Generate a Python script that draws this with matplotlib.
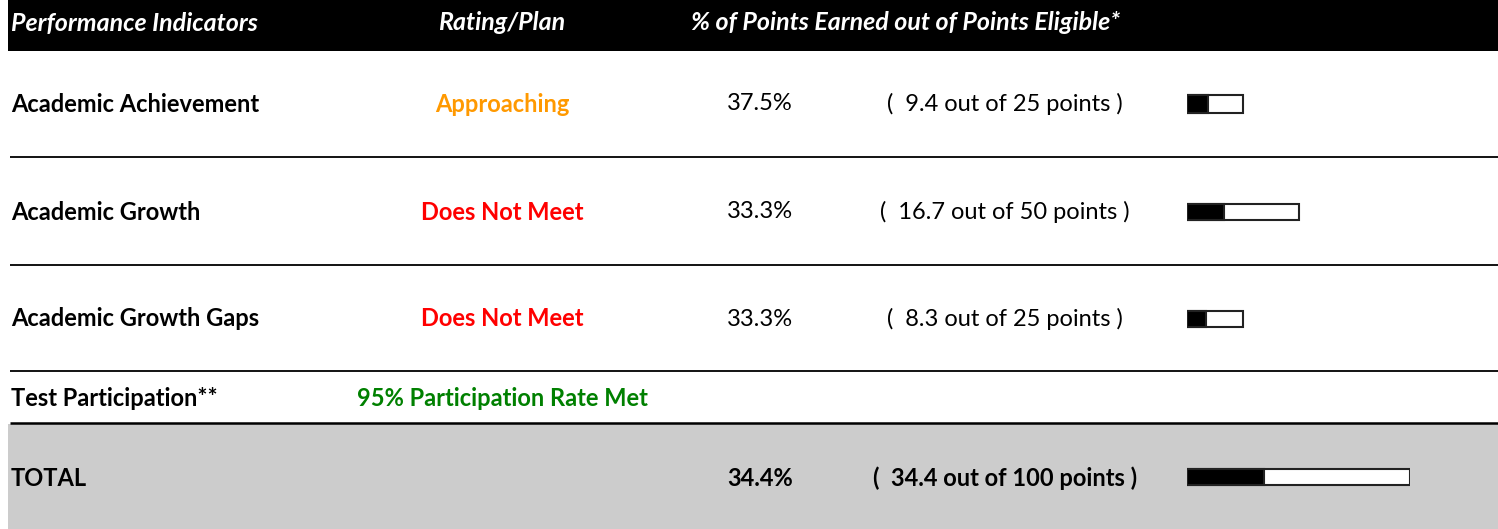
import matplotlib
matplotlib.use('Agg')
import matplotlib.pyplot as plt

# данные таблицы
headers = ['Performance Indicators', 'Rating/Plan', '% of Points Earned out of Points Eligible*']
indicators = ['Academic Achievement', 'Academic Growth', 'Academic Growth Gaps']
ratings = ['Approaching', 'Does Not Meet', 'Does Not Meet']
rating_colors = ['#FF9900', '#FF0000', '#FF0000']
percents = ['37.5%', '33.3%', '33.3%']
earned = [9.4, 16.7, 8.3]
eligible = [25, 50, 25]
participation_label = 'Test Participation**'
participation_text = '95% Participation Rate Met'
total_label = 'TOTAL'
total_percent = '34.4%'
total_earned = 34.4
total_eligible = 100

W, H = 1498, 529
fs = 17
plt.rcParams['font.family'] = ['Lato', 'DejaVu Sans']

fig = plt.figure(figsize=(W / 100, H / 100), dpi=100)
ax = fig.add_axes([0, 0, 1, 1])
ax.set_xlim(0, W)
ax.set_ylim(H, 0)
ax.axis('off')

# шапка
ax.fill_between([8, W], 0, 51, color='black', lw=0)
hx = [11, 502, 906]
ha = ['left', 'center', 'center']
for t, x, a in zip(headers, hx, ha):
    ax.text(x, 23, t, color='white', fontsize=18, fontstyle='italic', fontweight='bold', ha=a, va='center')

# строка TOTAL
ax.fill_between([8, W], 424, H, color='#CCCCCC', lw=0)

# разделители
for y, lw in [(157, 1.3), (265, 1.3), (371, 1.3), (423, 1.8)]:
    ax.plot([10, W], [y, y], color='black', lw=lw, solid_capstyle='butt')

row_y = [104, 212, 319]
for name, r, c, p, e, el, y in zip(indicators, ratings, rating_colors, percents, earned, eligible, row_y):
    ax.text(11, y, name, fontsize=fs, fontweight='bold', ha='left', va='center')
    ax.text(502, y, r, color=c, fontsize=fs, fontweight='bold', ha='center', va='center')
    ax.text(760, y, p, fontsize=fs, ha='center', va='center')
    ax.text(1005, y, f'(  {e} out of {el} points )', fontsize=fs, ha='center', va='center')

ax.text(11, 398, participation_label, fontsize=fs, fontweight='bold', ha='left', va='center')
ax.text(502, 398, participation_text, color='#008000', fontsize=fs, fontweight='bold', ha='center', va='center')

ax.text(11, 478, total_label, fontsize=fs, fontweight='bold', ha='left', va='center')
ax.text(760, 478, total_percent, fontsize=fs, fontweight='bold', ha='center', va='center')
ax.text(1005, 478, f'(  {total_earned} out of {total_eligible} points )', fontsize=fs, fontweight='bold',
        ha='center', va='center')

# мини-бары: ось в пунктах, y в пикселях
bx0, bw = 1187, 223
bax = fig.add_axes([bx0 / W, 0, bw / W, 1])
bax.set_xlim(0, total_eligible)
bax.set_ylim(H, 0)
bax.axis('off')
bar_y = row_y + [477]
bar_h = [18, 16, 16, 16]
for y, e, el, h in zip(bar_y, earned + [total_earned], eligible + [total_eligible], bar_h):
    bax.barh(y, el, height=h, left=0, color='white', edgecolor='#222222', lw=1.5)
    bax.barh(y, e, height=h, left=0, color='black', edgecolor='#222222', lw=1.5)

fig.savefig('out.png', dpi=100)
